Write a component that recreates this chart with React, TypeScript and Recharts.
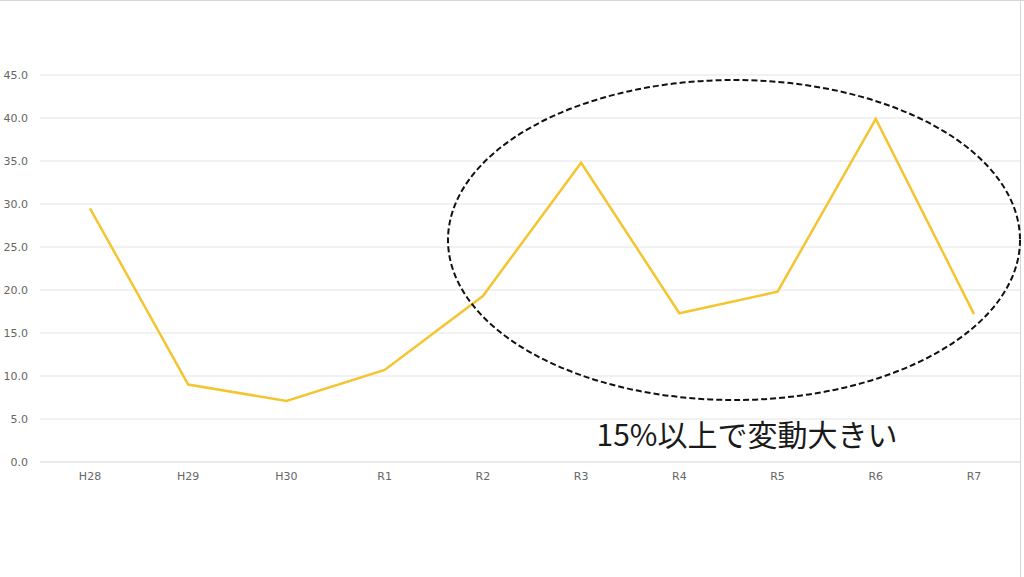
import React from 'react';
import { LineChart, Line, XAxis, YAxis, CartesianGrid } from 'recharts';

const categories = ['H28', 'H29', 'H30', 'R1', 'R2', 'R3', 'R4', 'R5', 'R6', 'R7'];
const values = [29.5, 9.0, 7.1, 10.7, 19.3, 34.8, 17.3, 19.8, 39.9, 17.2];
const yTicks = [0, 5, 10, 15, 20, 25, 30, 35, 40, 45];
const annotation = '15%以上で変動大きい';

const data = categories.map((c, i) => ({ name: c, value: values[i] }));

export default function App() {
  return (
    <div
      style={{
        position: 'absolute',
        left: 0,
        top: 0,
        width: 1024,
        height: 577,
        background: '#fff',
        overflow: 'hidden',
      }}
    >
      <LineChart
        width={1024}
        height={577}
        data={data}
        margin={{ top: 75, right: 4, bottom: 85, left: 0 }}
      >
        <CartesianGrid vertical={false} stroke="#e3e3e3" strokeWidth={1} />
        <XAxis
          dataKey="name"
          height={30}
          padding={{ left: 50, right: 46 }}
          axisLine={{ stroke: '#e3e3e3' }}
          tickLine={false}
          tickSize={0}
          tickMargin={10}
          tick={{ fill: '#666', fontSize: 11, fontFamily: 'DejaVu Sans, sans-serif' }}
        />
        <YAxis
          width={40}
          domain={[0, 45]}
          ticks={yTicks}
          axisLine={false}
          tickLine={false}
          tickSize={0}
          tickMargin={12}
          tickFormatter={(v: number) => v.toFixed(1)}
          tick={{ fill: '#666', fontSize: 11, fontFamily: 'DejaVu Sans, sans-serif' }}
        />
        <Line
          type="linear"
          dataKey="value"
          stroke="#F4C531"
          strokeWidth={2.5}
          dot={false}
          activeDot={false}
          isAnimationActive={false}
        />
      </LineChart>
      <svg
        width={1024}
        height={577}
        style={{ position: 'absolute', left: 0, top: 0, pointerEvents: 'none' }}
      >
        <line x1={0} y1={0.5} x2={1024} y2={0.5} stroke="#d6d6d6" strokeWidth={1} />
        <line x1={1020.5} y1={0} x2={1020.5} y2={577} stroke="#d6d6d6" strokeWidth={1} />
        <ellipse
          cx={734}
          cy={240}
          rx={286}
          ry={160}
          fill="none"
          stroke="#111"
          strokeWidth={2}
          strokeDasharray="6 3"
        />
        <text
          x={747}
          y={446}
          textAnchor="middle"
          fontSize={30}
          fill="#1a1a1a"
          fontFamily="'Noto Sans CJK JP', sans-serif"
        >
          {annotation}
        </text>
      </svg>
    </div>
  );
}
